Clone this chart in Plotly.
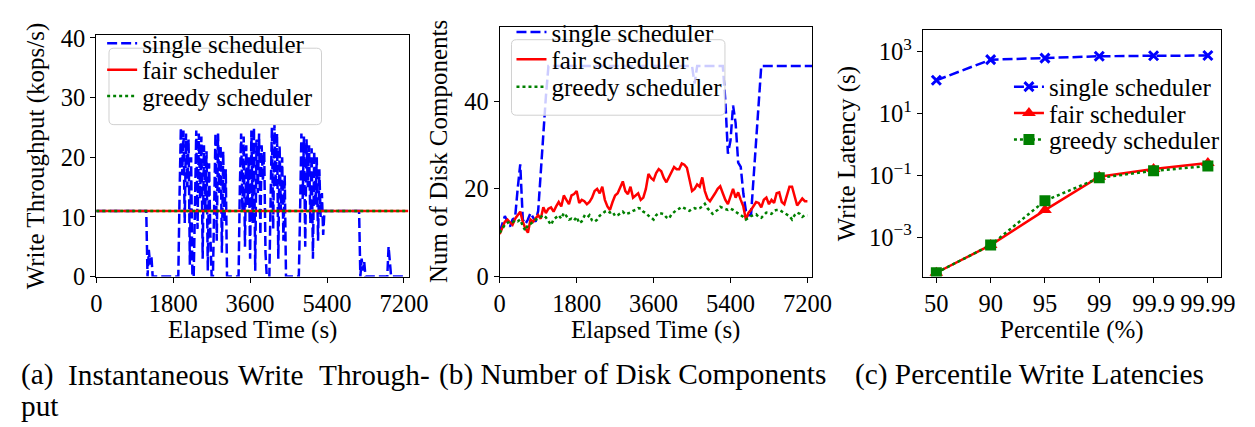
import plotly.graph_objects as go

# ---------------- data ----------------
# (a) instantaneous write throughput (kops/s), sampled every 30 s
T_A = list(range(0, 7201, 30))
A_SINGLE = [
    11, 11, 11, 11, 11, 11, 11, 11, 11, 11, 11, 11, 11, 11, 11, 11, 11, 11, 11, 11,
    11, 11, 11, 11, 11, 11, 11, 11, 11, 11, 11, 11, 11, 11, 11, 11, 11, 11, 11, 11,
    0, 4.5, 2, 3.5, 0,
    0, 0, 0, 0, 0, 0, 0, 0, 0, 0, 0, 0, 0, 0, 0, 0, 0, 0, 0, 0,
    14, 25, 17, 24.5, 9, 24, 15, 23, 2, 20,
    0, 0,
    12, 24.5, 8, 24, 13, 23.5, 3, 22, 11, 21, 1, 19, 7, 0,
    0,
    10, 24, 6, 24, 14, 22, 4, 21, 9, 18, 0,
    0, 0, 0, 0, 0, 0, 0, 0, 0,
    15, 24, 11, 23.5, 5, 22, 12, 20, 3, 24.5, 9, 25, 1, 23, 14, 24, 7, 22, 16, 21, 4,
    0, 0, 0,
    13, 25, 8, 25.5, 15, 24, 3, 22, 11, 20, 6, 17, 0,
    0, 0, 0, 0, 0, 0, 0, 0, 0, 0,
    11, 24, 13, 23.5, 5, 23, 15, 22, 9, 21.5, 3, 21, 12, 20, 6, 18, 10, 14, 7, 11,
    11, 11, 11, 11, 11, 11, 11, 11, 11, 11, 11, 11, 11, 11, 11, 11, 11, 11, 11, 11,
    11, 11, 11, 11, 11, 11, 11,
    0, 3, 1, 2.5, 0,
    0, 0, 0, 0, 0, 0, 0, 0, 0, 0, 0, 0, 0, 0, 0, 0, 0,
    5, 2, 0,
    0, 0, 0, 0, 0, 0, 0, 0, 0, 0,
]
T_A_FLAT = [0, 3600, 7300]
A_FAIR = [11, 11, 11]
A_GREEDY = [11, 11, 11]

# (b) number of disk components, sampled every 60 s
T_B = list(range(0, 7201, 60))
T_B_SINGLE = list(range(0, 7321, 60))
B_SINGLE = [
    10.2, 12, 13.8, 12.5, 11.4, 13, 13.5, 20, 25.6, 13,
    12, 13, 14.5, 13.5, 12.5, 15, 24, 33, 41, 48,
    48, 48, 48, 48, 48, 48, 48, 48, 48, 48, 48, 48, 48, 48, 48, 48, 48, 48, 48, 48,
    48, 48, 48, 48, 48, 48, 48, 48, 48, 48, 48, 48, 48, 48, 48, 48, 48, 48, 48, 48,
    48, 48, 48, 48, 48, 48, 48, 48, 48, 48, 48, 48, 48, 48, 48, 48,
    44,
    48, 48, 48, 48, 48, 48, 48, 48, 48, 48, 48,
    40, 28, 31, 39, 35, 26, 25, 19, 15, 14, 14, 23, 32, 40, 48,
    48, 48, 48, 48, 48, 48, 48, 48, 48, 48, 48, 48, 48, 48, 48, 48, 48, 48, 48, 48,
]
B_FAIR = [
    9.7, 11, 12.5, 13, 12.5, 11.8, 13.2, 14, 14.8, 12.5,
    11, 10, 13, 12.5, 13.4, 14, 13.2, 15.8, 14.5, 15.5,
    15.8, 14.8, 16, 17, 16, 18.5, 17.5, 16.5, 18.5, 18.8,
    19.5, 16.8, 17.5, 17.2, 16.5, 17, 18, 19.5, 20, 19,
    20.5, 17.5, 16, 15.2, 17, 18.5, 19, 20.5, 21.7, 19.5,
    18.8, 20.5, 18, 18.5, 19, 17.5, 18, 20, 23.4, 22.5,
    22, 23.6, 24.5, 24, 22.5, 21.5, 22.8, 24, 25, 24.5,
    24.5, 25.8, 25.5, 24.8, 22.5, 19.5, 20, 21, 20.5, 22.6,
    19.5, 17.8, 17.2, 18, 19, 20, 20.6, 19, 17.5, 16.5,
    18.5, 20, 18, 19.2, 17.5, 16, 13, 14.5, 15.2, 16,
    17, 16.8, 15.8, 17.5, 18, 16.5, 17.5, 16.8, 19, 19.2,
    17, 16.5, 18.8, 20.5, 20.5, 18, 16.2, 17, 17.8, 17.2,
    17.2,
]
B_GREEDY = [
    10, 11, 11.8, 12.2, 12.6, 12.4, 12.8, 12.6, 13, 11.5,
    10.5, 11.8, 12, 12.5, 13, 13.2, 13.6, 14, 13.5, 12.5,
    11.8, 13, 13.6, 14, 13.2, 14.5, 13.8, 13, 13.2, 12.8,
    13.6, 12.2, 12.6, 13.8, 13.4, 14, 12.8, 12.5, 13, 13.9,
    14.3, 14.8, 15, 14.6, 14.8, 13.8, 14, 14.5, 14.8, 14.2,
    14.4, 14.6, 15, 15.2, 15.6, 15.5, 14.8, 14.5, 13.9, 13.5,
    13, 14, 14.5, 14.4, 14.2, 13.5, 13.2, 14.2, 14.8, 15.2,
    15.5, 15.9, 15.6, 15.3, 15, 15.4, 15.6, 15.4, 15.6, 16,
    16.6, 15.6, 15, 14.3, 14.8, 15.2, 15.9, 15.6, 15.4, 15.2,
    15.5, 15.2, 14.8, 14.5, 14, 13.6, 13, 13.5, 13.8, 14,
    14.2, 13.6, 13.4, 14, 14.6, 14.5, 14.3, 15, 15.2, 15.2,
    14.8, 14.4, 14.2, 13.8, 13, 14, 14.6, 14.3, 13.6, 14,
    14,
]

# (c) percentile write latencies (s)
PERCENTILES = ["50", "90", "95", "99", "99.9", "99.99"]
C_SINGLE = [120, 560, 630, 720, 750, 760]
C_FAIR = [7e-5, 5.5e-4, 7.5e-3, 0.09, 0.16, 0.25]
C_GREEDY = [7e-5, 5.5e-4, 0.015, 0.083, 0.14, 0.2]

TIME_TICKS = [0, 1800, 3600, 5400, 7200]
A_YTICKS = [0, 10, 20, 30, 40]
B_YTICKS = [0, 20, 40]
C_YTICKS = [1e-3, 1e-1, 1e1, 1e3]
C_YTICKTEXT = ["10<sup>\u22123</sup>", "10<sup>\u22121</sup>", "10<sup>1</sup>", "10<sup>3</sup>"]

NAMES = ["single scheduler", "fair scheduler", "greedy scheduler"]

# ---------------- styling / layout ----------------
W, H = 1255, 427
FONT = "Liberation Serif"
FS = 25
TICK_FS = 24.5
CAP_FS = 29.3
BLUE, RED, GREEN = "#0000ff", "#ff0000", "#008000"
DASH = "10px,4px"
DOT = "3px,3px"
LW = 2.5


def fx(p):
    return p / W


def fy(p):
    return 1 - p / H


fig = go.Figure()

# (a)
fig.add_trace(go.Scatter(x=T_A, y=A_SINGLE, mode="lines", name=NAMES[0],
                         line=dict(color=BLUE, width=LW, dash=DASH),
                         xaxis="x", yaxis="y", legend="legend"))
fig.add_trace(go.Scatter(x=T_A_FLAT, y=A_FAIR, mode="lines", name=NAMES[1],
                         line=dict(color=RED, width=LW),
                         xaxis="x", yaxis="y", legend="legend2"))
fig.add_trace(go.Scatter(x=T_A_FLAT, y=A_GREEDY, mode="lines", name=NAMES[2],
                         line=dict(color=GREEN, width=LW, dash=DOT),
                         xaxis="x", yaxis="y", legend="legend3"))

# (b)
fig.add_trace(go.Scatter(x=T_B_SINGLE, y=B_SINGLE, mode="lines", name=NAMES[0],
                         line=dict(color=BLUE, width=LW, dash=DASH),
                         xaxis="x2", yaxis="y2", legend="legend4"))
fig.add_trace(go.Scatter(x=T_B, y=B_FAIR, mode="lines", name=NAMES[1],
                         line=dict(color=RED, width=LW),
                         xaxis="x2", yaxis="y2", legend="legend5"))
fig.add_trace(go.Scatter(x=T_B, y=B_GREEDY, mode="lines", name=NAMES[2],
                         line=dict(color=GREEN, width=LW, dash=DOT),
                         xaxis="x2", yaxis="y2", legend="legend6"))

# (c)
fig.add_trace(go.Scatter(x=PERCENTILES, y=C_SINGLE, mode="lines+markers", name=NAMES[0],
                         line=dict(color=BLUE, width=LW, dash=DASH),
                         marker=dict(symbol="x-thin", size=9, color=BLUE,
                                     line=dict(color=BLUE, width=3)),
                         xaxis="x3", yaxis="y3", legend="legend7"))
fig.add_trace(go.Scatter(x=PERCENTILES, y=C_FAIR, mode="lines+markers", name=NAMES[1],
                         line=dict(color=RED, width=LW),
                         marker=dict(symbol="triangle-up", size=12, color=RED),
                         xaxis="x3", yaxis="y3", legend="legend8"))
fig.add_trace(go.Scatter(x=PERCENTILES, y=C_GREEDY, mode="lines+markers", name=NAMES[2],
                         line=dict(color=GREEN, width=LW, dash=DOT),
                         marker=dict(symbol="square", size=11, color=GREEN),
                         xaxis="x3", yaxis="y3", legend="legend9"))

axis_common = dict(showline=True, linecolor="black", linewidth=1.3, mirror=True,
                   ticks="outside", ticklen=5, tickwidth=1.2, tickcolor="black",
                   showgrid=False, zeroline=False,
                   tickfont=dict(family=FONT, size=TICK_FS, color="black"))


def leg(xpx, ypx):
    return dict(x=fx(xpx), y=fy(ypx - 14), xanchor="left", yanchor="middle",
                bgcolor="rgba(0,0,0,0)", borderwidth=0,
                font=dict(family=FONT, size=FS, color="black"))


bottom = fy(274)
fig.update_layout(
    width=W, height=H,
    margin=dict(l=0, r=0, t=0, b=0),
    paper_bgcolor="white", plot_bgcolor="white",
    showlegend=True,
    font=dict(family=FONT, size=FS, color="black"),
    xaxis=dict(axis_common, domain=[fx(84), fx(403)], range=[0, 7310],
               tickvals=TIME_TICKS, anchor="y"),
    yaxis=dict(axis_common, domain=[bottom, fy(18)], range=[0, 40.5],
               tickvals=A_YTICKS, anchor="x"),
    xaxis2=dict(axis_common, domain=[fx(496), fx(815)], range=[0, 7310],
                tickvals=TIME_TICKS, anchor="y2"),
    yaxis2=dict(axis_common, domain=[bottom, fy(10)], range=[0, 56.8],
                tickvals=B_YTICKS, anchor="x2"),
    xaxis3=dict(axis_common, domain=[fx(928), fx(1233)], type="category",
                range=[-0.25, 5.25], anchor="y3"),
    yaxis3=dict(axis_common, domain=[bottom, fy(13)], type="log",
                range=[-4.28, 3.70], tickvals=C_YTICKS, ticktext=C_YTICKTEXT,
                anchor="x3"),
    legend=leg(90, 41), legend2=leg(90, 69), legend3=leg(90, 97),
    legend4=leg(508, 29), legend5=leg(508, 58), legend6=leg(508, 87),
    legend7=leg(1016, 87), legend8=leg(1016, 115), legend9=leg(1016, 143),
)


def rrect(x0, y0, x1, y1, r=5):
    X = lambda p: f"{fx(p):.5f}"
    Y = lambda p: f"{fy(p):.5f}"
    return (f"M{X(x0 + r)},{Y(y0)} L{X(x1 - r)},{Y(y0)} Q{X(x1)},{Y(y0)} {X(x1)},{Y(y0 + r)} "
            f"L{X(x1)},{Y(y1 - r)} Q{X(x1)},{Y(y1)} {X(x1 - r)},{Y(y1)} "
            f"L{X(x0 + r)},{Y(y1)} Q{X(x0)},{Y(y1)} {X(x0)},{Y(y1 - r)} "
            f"L{X(x0)},{Y(y0 + r)} Q{X(x0)},{Y(y0)} {X(x0 + r)},{Y(y0)} Z")


shapes = [
    dict(type="path", xref="paper", yref="paper", path=rrect(97, 32, 314, 113),
         fillcolor="rgba(255,255,255,0.8)", line=dict(color="#d0d0d0", width=1),
         layer="above"),
    dict(type="path", xref="paper", yref="paper", path=rrect(508, 23, 726, 103),
         fillcolor="rgba(255,255,255,0.8)", line=dict(color="#d0d0d0", width=1),
         layer="above"),
]
fig.update_layout(shapes=shapes)

annotations = []
# y axis titles
for xc, yc, txt in [(22, 146, "Write Throughput (kops/s)"),
                    (433, 142, "Num of Disk Components"),
                    (851, 144, "Write Latency (s)")]:
    annotations.append(dict(x=fx(xc), y=fy(yc), xref="paper", yref="paper",
                            text=txt, textangle=-90, showarrow=False,
                            xanchor="center", yanchor="middle",
                            font=dict(family=FONT, size=FS, color="black")))
# x axis titles
for xc, txt in [(243.5, "Elapsed Time (s)"), (655.5, "Elapsed Time (s)"),
                (1080.5, "Percentile (%)")]:
    annotations.append(dict(x=fx(xc), y=fy(331), xref="paper", yref="paper",
                            text=txt, showarrow=False, xanchor="center",
                            yanchor="middle",
                            font=dict(family=FONT, size=FS, color="black")))
# captions
for xl, txt in [(5, "(a)"), (53, "Instantaneous"), (227, "Write"), (309, "Through-")]:
    annotations.append(dict(x=fx(xl), y=fy(378), xref="paper", yref="paper",
                            text=txt, showarrow=False, xanchor="left",
                            yanchor="middle",
                            font=dict(family=FONT, size=CAP_FS, color="black")))
annotations.append(dict(x=fx(5), y=fy(411), xref="paper", yref="paper",
                        text="put", showarrow=False, xanchor="left", yanchor="middle",
                        font=dict(family=FONT, size=CAP_FS, color="black")))
annotations.append(dict(x=fx(432), y=fy(378), xref="paper", yref="paper",
                        text="(b) Number of Disk Components", showarrow=False,
                        xanchor="left", yanchor="middle",
                        font=dict(family=FONT, size=CAP_FS, color="black")))
annotations.append(dict(x=fx(857), y=fy(378), xref="paper", yref="paper",
                        text="(c) Percentile Write Latencies", showarrow=False,
                        xanchor="left", yanchor="middle",
                        font=dict(family=FONT, size=CAP_FS, color="black")))
fig.update_layout(annotations=annotations)

fig.write_html("out.html")
